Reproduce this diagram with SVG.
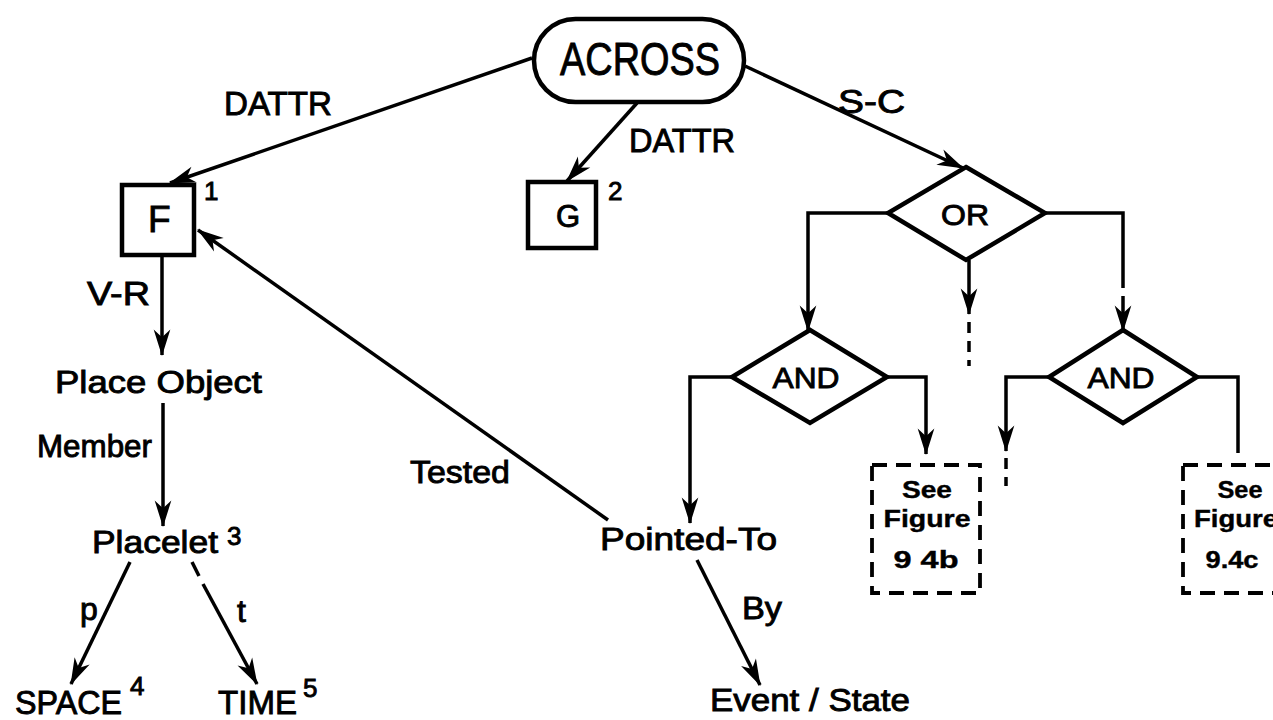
<svg xmlns="http://www.w3.org/2000/svg" width="1273" height="720" viewBox="0 0 1273 720">
<defs>
<style>
text{font-family:"Liberation Sans",Arial,sans-serif;fill:#000;stroke:#000;stroke-width:0.9}
.t{font-size:32px}
.lab{font-size:33px}
.sup{font-size:26px}
.box{fill:#fff;stroke:#000;stroke-width:4.5}
.dash{fill:none;stroke:#000;stroke-width:3.8;stroke-dasharray:15 9}
.ln{fill:none;stroke:#000;stroke-width:3.5}
.ar{marker-end:url(#ah)}
.fig{font-size:24px;font-weight:bold;stroke-width:0.4}
</style>
<marker id="ah" markerUnits="userSpaceOnUse" markerWidth="30" markerHeight="20" viewBox="-24 -9 26 18" refX="0" refY="0" orient="auto">
<path d="M1,0 L-23,-7.5 L-16,0 L-23,7.5 Z" fill="#000"/>
</marker>
</defs>
<rect width="1273" height="720" fill="#fff"/>

<g id="connectors">
<line class="ln ar" x1="532" y1="58" x2="170" y2="183"/>
<line class="ln ar" x1="637" y1="103" x2="567" y2="181"/>
<line class="ln ar" x1="745" y1="66" x2="963" y2="168"/>
<line class="ln ar" x1="162" y1="256" x2="162" y2="355"/>
<line class="ln ar" x1="163" y1="403" x2="163" y2="526"/>
<line class="ln ar" x1="130" y1="562" x2="71" y2="684"/>
<line class="ln" x1="192" y1="562" x2="199" y2="576"/>
<line class="ln ar" x1="203" y1="584" x2="257" y2="684"/>
<line class="ln ar" x1="608" y1="520" x2="198" y2="230"/>
<line class="ln ar" x1="697" y1="560" x2="760" y2="685"/>
<polyline class="ln ar" points="888,213 808,213 808,331"/>
<line class="ln ar" x1="969" y1="260" x2="969" y2="314"/>
<line class="ln" x1="969" y1="322" x2="969" y2="366" stroke-dasharray="11 8"/>
<polyline class="ln" points="1045,213 1123,213 1123,288"/>
<line class="ln ar" x1="1123" y1="296" x2="1123" y2="331"/>
<polyline class="ln ar" points="732,377 690,377 690,523"/>
<polyline class="ln ar" points="887,377 926,377 926,454"/>
<polyline class="ln ar" points="1049,377 1006,377 1006,451"/>
<line class="ln" x1="1006" y1="458" x2="1006" y2="486" stroke-dasharray="11 8"/>
<polyline class="ln" points="1197,377 1238,377 1238,453"/>
</g>

<g id="across">
<rect class="box" x="534" y="19" width="210" height="83" rx="41.5"/>
<text x="640" y="75" font-size="46" text-anchor="middle" textLength="160" lengthAdjust="spacingAndGlyphs">ACROSS</text>
</g>

<g id="dattr-labels">
<text class="lab" x="224" y="115" textLength="108" lengthAdjust="spacingAndGlyphs">DATTR</text>
<text class="lab" x="629" y="152" textLength="106" lengthAdjust="spacingAndGlyphs">DATTR</text>
<text class="lab" x="838" y="113" textLength="67" lengthAdjust="spacingAndGlyphs">S-C</text>
</g>

<g id="node-f">
<rect class="box" x="122" y="185" width="72" height="70"/>
<text x="148" y="232" font-size="37">F</text>
<text class="sup" x="204" y="200">1</text>
</g>

<g id="node-g">
<rect class="box" x="528" y="182" width="68" height="66"/>
<text x="568" y="227" font-size="31" text-anchor="middle">G</text>
<text class="sup" x="608" y="200">2</text>
</g>

<g id="node-or">
<polygon class="box" points="966,167 1045,213 966,260 888,213"/>
<text x="965" y="225" font-size="30" text-anchor="middle" textLength="48" lengthAdjust="spacingAndGlyphs">OR</text>
</g>

<g id="node-and-left">
<polygon class="box" points="810,330 887,377 810,423 732,377"/>
<text x="806" y="388" font-size="30" text-anchor="middle" textLength="67" lengthAdjust="spacingAndGlyphs">AND</text>
</g>

<g id="node-and-right">
<polygon class="box" points="1123,330 1197,377 1123,423 1049,377"/>
<text x="1121" y="388" font-size="30" text-anchor="middle" textLength="67" lengthAdjust="spacingAndGlyphs">AND</text>
</g>

<g id="node-fig-b">
<rect class="dash" x="872" y="465" width="108" height="128"/>
<text class="fig" x="927" y="498" text-anchor="middle" textLength="50" lengthAdjust="spacingAndGlyphs">See</text>
<text class="fig" x="927" y="527" text-anchor="middle" textLength="87" lengthAdjust="spacingAndGlyphs">Figure</text>
<text class="fig" x="926" y="568" text-anchor="middle" font-size="30" textLength="65" lengthAdjust="spacingAndGlyphs">9 4b</text>
</g>

<g id="node-fig-c">
<rect class="dash" x="1183" y="465" width="108" height="128"/>
<text class="fig" x="1240" y="498" text-anchor="middle" textLength="45" lengthAdjust="spacingAndGlyphs">See</text>
<text class="fig" x="1236" y="527" text-anchor="middle" textLength="84" lengthAdjust="spacingAndGlyphs">Figure</text>
<text class="fig" x="1232" y="568" text-anchor="middle" font-size="30" textLength="53" lengthAdjust="spacingAndGlyphs">9.4c</text>
</g>

<g id="node-place-object">
<text class="lab" x="87" y="305" textLength="63" lengthAdjust="spacingAndGlyphs">V-R</text>
<text class="t" x="55" y="393" textLength="207" lengthAdjust="spacingAndGlyphs">Place Object</text>
</g>

<g id="node-placelet">
<text class="t" x="37" y="457" textLength="115" lengthAdjust="spacingAndGlyphs">Member</text>
<text class="t" x="92" y="553" textLength="126" lengthAdjust="spacingAndGlyphs">Placelet</text>
<text class="sup" x="227" y="545">3</text>
</g>

<g id="node-space">
<text class="t" x="80" y="620">p</text>
<text class="lab" x="15" y="714" textLength="107" lengthAdjust="spacingAndGlyphs">SPACE</text>
<text class="sup" x="130" y="695">4</text>
</g>

<g id="node-time">
<text class="t" x="237" y="622">t</text>
<text class="lab" x="218" y="714" textLength="79" lengthAdjust="spacingAndGlyphs">TIME</text>
<text class="sup" x="303" y="697">5</text>
</g>

<g id="node-pointed-to">
<text class="t" x="410" y="483" textLength="100" lengthAdjust="spacingAndGlyphs">Tested</text>
<text class="t" x="600" y="550" textLength="177" lengthAdjust="spacingAndGlyphs">Pointed-To</text>
</g>

<g id="node-event-state">
<text class="t" x="742" y="619" textLength="40" lengthAdjust="spacingAndGlyphs">By</text>
<text class="t" x="710" y="711" textLength="200" lengthAdjust="spacingAndGlyphs">Event / State</text>
</g>
</svg>
